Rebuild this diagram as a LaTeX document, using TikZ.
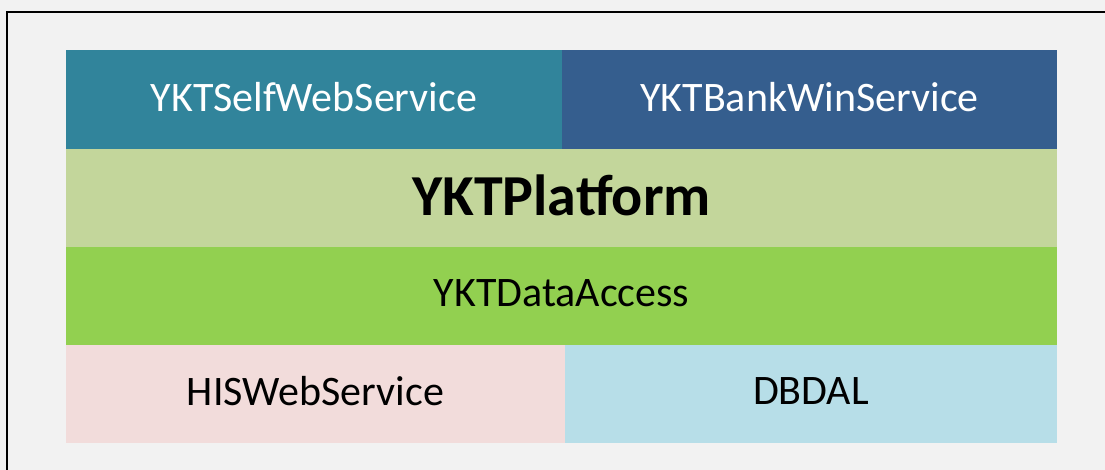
\documentclass[tikz,border=0pt]{standalone}
\usepackage{fontspec}
\setmainfont{Carlito}
\definecolor{bgc}{HTML}{F2F2F2}
\definecolor{selfc}{HTML}{31849B}
\definecolor{bankc}{HTML}{355E8E}
\definecolor{platc}{HTML}{C3D69B}
\definecolor{datac}{HTML}{92D050}
\definecolor{hisc}{HTML}{F2DCDB}
\definecolor{dbc}{HTML}{B7DEE8}
\newcommand{\up}[1]{\raisebox{5.5pt}{#1}}
\begin{document}
\begin{tikzpicture}[x=1pt,y=-1pt,
  layer/.style={draw=none,inner sep=0pt,outer sep=0pt,anchor=north west,font=\fontsize{42}{46}\selectfont}]
\fill[bgc] (0,0) rectangle (1105,470);
\useasboundingbox (0,0) rectangle (1105,470);
\draw[line width=1.4pt] (7,472) -- (7,12) -- (1107,12);
\node[layer,fill=selfc,text=white,minimum width=496pt,minimum height=99pt] (self) at (66,50) {\up{YKTSelfWebService}};
\node[layer,fill=bankc,text=white,minimum width=495pt,minimum height=99pt] (bank) at (562,50) {\up{YKTBankWinService}};
\node[layer,fill=platc,text=black,minimum width=991pt,minimum height=98pt,font=\fontsize{58}{62}\selectfont\bfseries] (plat) at (66,149) {\up{YKTPlatform}};
\node[layer,fill=datac,text=black,minimum width=991pt,minimum height=98pt] (data) at (66,247) {\up{YKTDataAccess}};
\node[layer,fill=hisc,text=black,minimum width=499pt,minimum height=98pt] (his) at (66,345) {\up{HISWebService}};
\node[layer,fill=dbc,text=black,minimum width=492pt,minimum height=98pt] (db) at (565,345) {\up{DBDAL}};
\end{tikzpicture}
\end{document}
